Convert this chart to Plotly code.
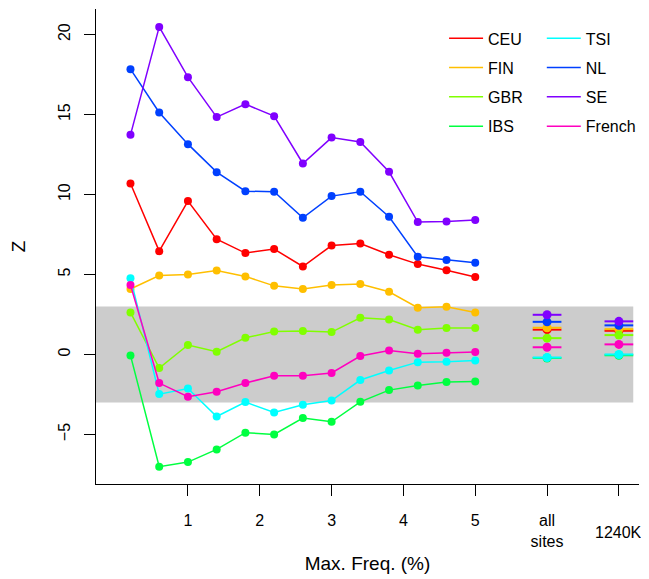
import plotly.graph_objects as go

# ---- data ----
freq = [0.2, 0.6, 1.0, 1.4, 1.8, 2.2, 2.6, 3.0, 3.4, 3.8, 4.2, 4.6, 5.0]
populations = ["CEU", "FIN", "GBR", "IBS", "TSI", "NL", "SE", "French"]
colors = ["#FF0000", "#FFBF00", "#80FF00", "#00FF40", "#00FFFF", "#0040FF", "#8000FF", "#FF00BF"]

CEU = [10.69, 6.46, 9.59, 7.21, 6.34, 6.59, 5.50, 6.81, 6.94, 6.23, 5.65, 5.27, 4.84]
FIN = [4.09, 4.94, 5.00, 5.25, 4.88, 4.29, 4.09, 4.34, 4.40, 3.92, 2.92, 2.98, 2.63]
GBR = [2.63, -0.85, 0.59, 0.17, 1.04, 1.44, 1.46, 1.40, 2.29, 2.19, 1.54, 1.65, 1.65]
IBS = [-0.06, -7.02, -6.73, -5.94, -4.89, -5.00, -3.98, -4.21, -2.96, -2.23, -1.94, -1.73, -1.69]
TSI = [4.77, -2.48, -2.13, -3.88, -2.98, -3.63, -3.15, -2.88, -1.60, -1.00, -0.48, -0.46, -0.38]
NL = [17.84, 15.13, 13.15, 11.40, 10.21, 10.17, 8.54, 9.90, 10.17, 8.61, 6.11, 5.90, 5.73]
SE = [13.73, 20.48, 17.34, 14.84, 15.65, 14.90, 11.94, 13.56, 13.29, 11.42, 8.28, 8.31, 8.40]
French = [4.34, -1.79, -2.64, -2.33, -1.79, -1.33, -1.33, -1.16, -0.10, 0.25, 0.04, 0.11, 0.15]

# Z for "all sites" and "1240K" (order as populations)
all_sites = [1.55, 1.67, 1.02, -0.22, -0.19, 2.04, 2.48, 0.45]
k1240 = [1.48, 1.58, 1.21, -0.05, 0.00, 1.82, 2.07, 0.63]

tick_vals = [1, 2, 3, 4, 5, 6, 7]
tick_text = ["1", "2", "3", "4", "5", "all<br>sites", ""]
extra_x = [6, 7]
extra_label = "1240K"
band = [-3, 3]

series = [CEU, FIN, GBR, IBS, TSI, NL, SE, French]

fig = go.Figure()
for i, (name, col, vals) in enumerate(zip(populations, colors, series)):
    fig.add_trace(go.Scatter(
        x=freq, y=vals, mode="lines+markers", name=name,
        line=dict(color=col, width=1.5),
        marker=dict(color=col, size=8),
        showlegend=False, legendgroup=name,
    ))
for i, (name, col) in enumerate(zip(populations, colors)):
    fig.add_trace(go.Scatter(
        x=extra_x, y=[all_sites[i], k1240[i]], mode="markers",
        marker=dict(color=col, size=9),
        error_x=dict(type="constant", value=0.2, thickness=2, width=0, color=col),
        showlegend=False, legendgroup=name,
    ))
# legend-only entries (line swatches, as in the original)
for i, (name, col) in enumerate(zip(populations, colors)):
    fig.add_trace(go.Scatter(
        x=[None], y=[None], mode="lines", name=name,
        line=dict(color=col, width=1.5),
        legend="legend" if i < 4 else "legend2",
        legendgroup=name,
    ))

fig.add_shape(type="rect", xref="x", yref="y", x0=-0.28, x1=7.2, y0=band[0], y1=band[1],
              fillcolor="#CCCCCC", line=dict(width=0), layer="below")

font = dict(family="Liberation Sans, Arial, sans-serif", size=16, color="black")

fig.add_annotation(x=7, xref="x", y=-0.103, yref="paper", text=extra_label, showarrow=False,
                   font=font, yanchor="middle")

# page body has an 8px default margin, so the figure is sized to fit inside the window
fig.update_layout(
    width=641, height=571,
    margin=dict(l=88, r=10, t=1, b=95),
    plot_bgcolor="white", paper_bgcolor="white",
    font=font,
    xaxis=dict(range=[-0.28, 7.28], tickvals=tick_vals, ticktext=tick_text,
               showline=True, linecolor="black", linewidth=1, ticks="outside", ticklen=11,
               tickcolor="black", showgrid=False, zeroline=False, automargin=False,
               ticklabelstandoff=11,
               title=dict(text="Max. Freq. (%)", standoff=7)),
    yaxis=dict(range=[-8.1, 21.6], tickvals=[-5, 0, 5, 10, 15, 20], tickangle=-90,
               showline=True, linecolor="black", linewidth=1, ticks="outside", ticklen=11,
               tickcolor="black", showgrid=False, zeroline=False, automargin=False,
               ticklabelstandoff=8,
               title=dict(text="Z", standoff=26)),
    legend=dict(x=0.641, y=0.974, xanchor="left", yanchor="top", bgcolor="rgba(0,0,0,0)",
                tracegroupgap=5.5, font=font, itemwidth=34),
    legend2=dict(x=0.821, y=0.974, xanchor="left", yanchor="top", bgcolor="rgba(0,0,0,0)",
                 tracegroupgap=5.5, font=font, itemwidth=34),
)
fig.write_html("out.html")
